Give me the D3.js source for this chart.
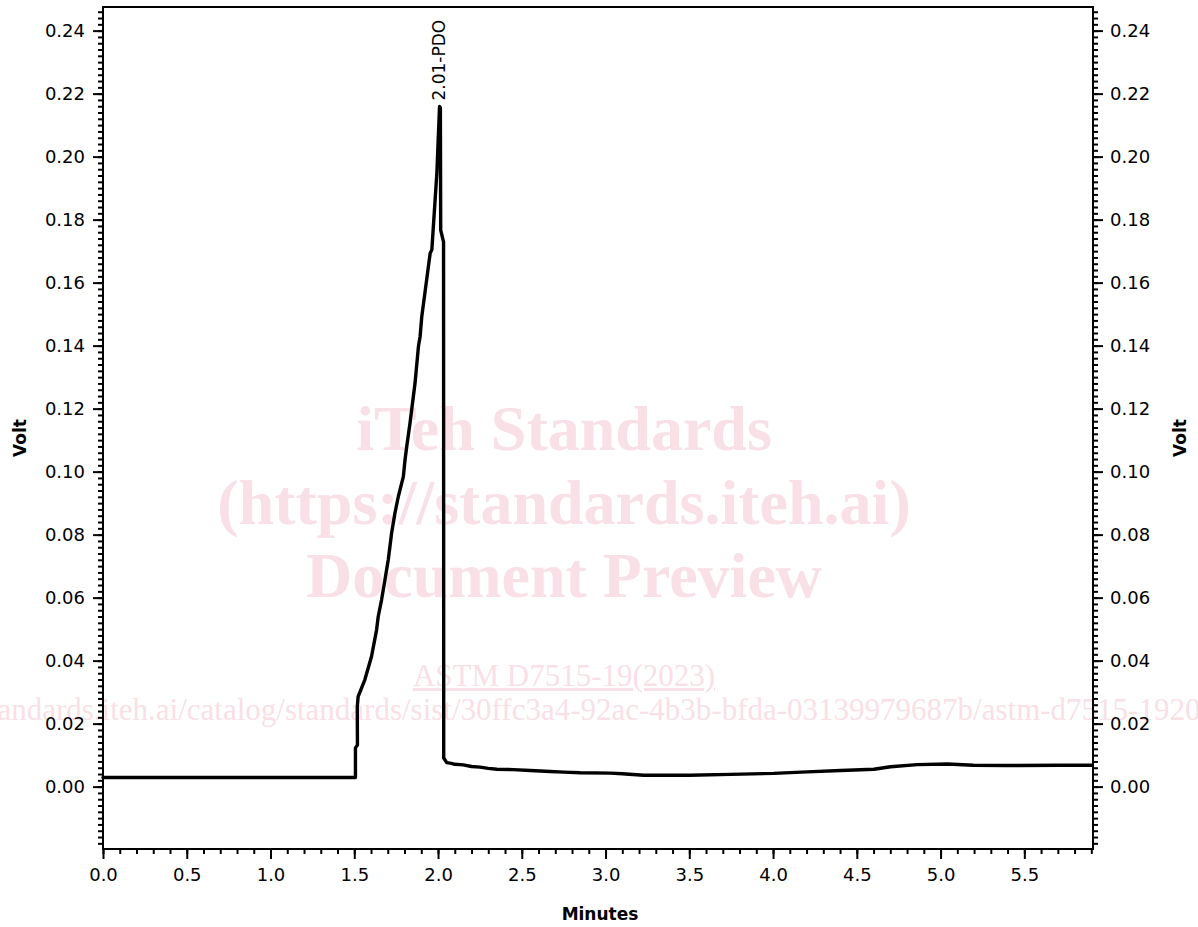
<!DOCTYPE html>
<html>
<head>
<meta charset="utf-8">
<script src="https://cdn.jsdelivr.net/npm/d3@7"></script>
<style>
  html, body { margin: 0; padding: 0; background: #fff; }
  svg { display: block; }
  .tick text { font-family: "DejaVu Sans", Verdana, sans-serif; font-size: 18px; fill: #000; }
  .tick line { stroke: #000; stroke-width: 2px; }
</style>
</head>
<body>
<svg id="chart" width="1198" height="927"></svg>
<script>
// ---- data ----
const timeMin = [0.0, 1.507, 1.507, 1.519, 1.518, 1.523, 1.563, 1.603, 1.633, 1.643, 1.663, 1.683, 1.703,
  1.723, 1.743, 1.763, 1.793, 1.803, 1.813, 1.833, 1.863, 1.883, 1.893, 1.903, 1.953, 1.963, 1.993, 2.009,
  2.014, 2.016, 2.033, 2.034, 2.052, 2.08, 2.10, 2.151, 2.20, 2.25, 2.30, 2.351, 2.45, 2.550, 2.670, 2.75,
  2.849, 3.029, 3.10, 3.228, 3.50, 3.746, 4.004, 4.204, 4.403, 4.602, 4.702, 4.861, 5.040, 5.196, 5.395,
  5.713, 5.905];
const volt = [0.0029, 0.0029, 0.0123, 0.0132, 0.0253, 0.0286, 0.0339, 0.0413, 0.0497, 0.0540, 0.0593,
  0.0656, 0.0720, 0.0805, 0.0869, 0.0921, 0.0984, 0.1037, 0.1079, 0.1155, 0.1282, 0.1397, 0.1429, 0.1492,
  0.1693, 0.1704, 0.1947, 0.2159, 0.2155, 0.1767, 0.1729, 0.0091, 0.0076, 0.0074, 0.0071, 0.0069, 0.0064,
  0.0062, 0.0058, 0.0055, 0.0054, 0.0051, 0.0048, 0.0046, 0.0044, 0.0043, 0.0041, 0.0036, 0.0036, 0.0039,
  0.0042, 0.0047, 0.0051, 0.0055, 0.0063, 0.0070, 0.0072, 0.0068, 0.0067, 0.0068, 0.0068];

const xMajor = [0.0, 0.5, 1.0, 1.5, 2.0, 2.5, 3.0, 3.5, 4.0, 4.5, 5.0, 5.5];
const yMajor = [0.00, 0.02, 0.04, 0.06, 0.08, 0.10, 0.12, 0.14, 0.16, 0.18, 0.20, 0.22, 0.24];
const xMinor = d3.range(0, 60).map(i => i / 10);
const yMinor = d3.range(-9, 124).map(i => i * 0.002);

const peakLabel = { t: 2.01, v: 0.2159, text: "2.01-PDO" };
const xTitle = "Minutes";
const yTitle = "Volt";

const watermarkLines = ["iTeh Standards", "(https://standards.iteh.ai)", "Document Preview"];
const watermarkRef = "ASTM D7515-19(2023)";
const watermarkUrl = "https://standards.iteh.ai/catalog/standards/sist/30ffc3a4-92ac-4b3b-bfda-03139979687b/astm-d7515-192023";

// ---- layout ----
const L = 103, R = 1093, T = 7, B = 849;
const svg = d3.select("#chart");

const x = d3.scaleLinear().domain([0, 5.91]).range([L, R]);
const y = d3.scaleLinear().domain([-0.0198, 0.2475]).range([B, T]);

// watermark
const wm = svg.append("g").attr("fill", "#f9dfe6").attr("font-family", "'Liberation Serif', 'Times New Roman', serif").attr("text-anchor", "middle");
watermarkLines.forEach((s, i) => {
  wm.append("text").attr("x", 564).attr("y", 450 + i * 73.5).attr("font-size", 64).attr("font-weight", "bold").text(s);
});
wm.append("text").attr("x", 564).attr("y", 686).attr("font-size", 31).attr("text-decoration", "underline").text(watermarkRef);
wm.append("text").attr("x", 561).attr("y", 720).attr("font-size", 31).text(watermarkUrl);

// axes
const minorY = yMinor.filter(v => y(v) >= T && y(v) <= B);
const minorX = xMinor.filter(v => x(v) >= L && x(v) <= R + 0.5);

svg.append("g").attr("transform", `translate(${L},0)`)
  .call(d3.axisLeft(y).tickValues(minorY).tickSize(5).tickFormat(""))
  .call(g => g.select(".domain").remove());
svg.append("g").attr("transform", `translate(${L},0)`)
  .call(d3.axisLeft(y).tickValues(yMajor).tickSize(10).tickPadding(8).tickFormat(d3.format(".2f")))
  .call(g => g.select(".domain").remove());

svg.append("g").attr("transform", `translate(${R},0)`)
  .call(d3.axisRight(y).tickValues(minorY).tickSize(5).tickFormat(""))
  .call(g => g.select(".domain").remove());
svg.append("g").attr("transform", `translate(${R},0)`)
  .call(d3.axisRight(y).tickValues(yMajor).tickSize(10).tickPadding(7).tickFormat(d3.format(".2f")))
  .call(g => g.select(".domain").remove());

svg.append("g").attr("transform", `translate(0,${B})`)
  .call(d3.axisBottom(x).tickValues(minorX).tickSize(5).tickFormat(""))
  .call(g => g.select(".domain").remove());
svg.append("g").attr("transform", `translate(0,${B})`)
  .call(d3.axisBottom(x).tickValues(xMajor).tickSize(10).tickPadding(9).tickFormat(d3.format(".1f")))
  .call(g => g.select(".domain").remove());

// frame
svg.append("rect").attr("x", L).attr("y", T).attr("width", R - L).attr("height", B - T)
  .attr("fill", "none").attr("stroke", "#000").attr("stroke-width", 2);

// trace
const pts = timeMin.map((t, i) => [t, volt[i]]);
svg.append("path").datum(pts)
  .attr("fill", "none").attr("stroke", "#000").attr("stroke-width", 3.4)
  .attr("stroke-linejoin", "round").attr("stroke-linecap", "round")
  .attr("d", d3.line().x(d => x(d[0])).y(d => y(d[1])));

// peak label
svg.append("text")
  .attr("transform", `translate(${x(peakLabel.t) + 5},${y(peakLabel.v) - 6}) rotate(-90)`)
  .attr("font-family", "DejaVu Sans, sans-serif").attr("font-size", 17)
  .text(peakLabel.text);

// titles
const tf = "DejaVu Sans, Verdana, sans-serif";
svg.append("text").attr("x", (L + R) / 2 + 2).attr("y", 920).attr("text-anchor", "middle")
  .attr("font-family", tf).attr("font-weight", "bold").attr("font-size", 17).text(xTitle);
svg.append("text").attr("transform", `translate(26,${(T + B) / 2 + 10}) rotate(-90)`).attr("text-anchor", "middle")
  .attr("font-family", tf).attr("font-weight", "bold").attr("font-size", 17).text(yTitle);
svg.append("text").attr("transform", `translate(1186,${(T + B) / 2 + 10}) rotate(-90)`).attr("text-anchor", "middle")
  .attr("font-family", tf).attr("font-weight", "bold").attr("font-size", 17).text(yTitle);
</script>
</body>
</html>
